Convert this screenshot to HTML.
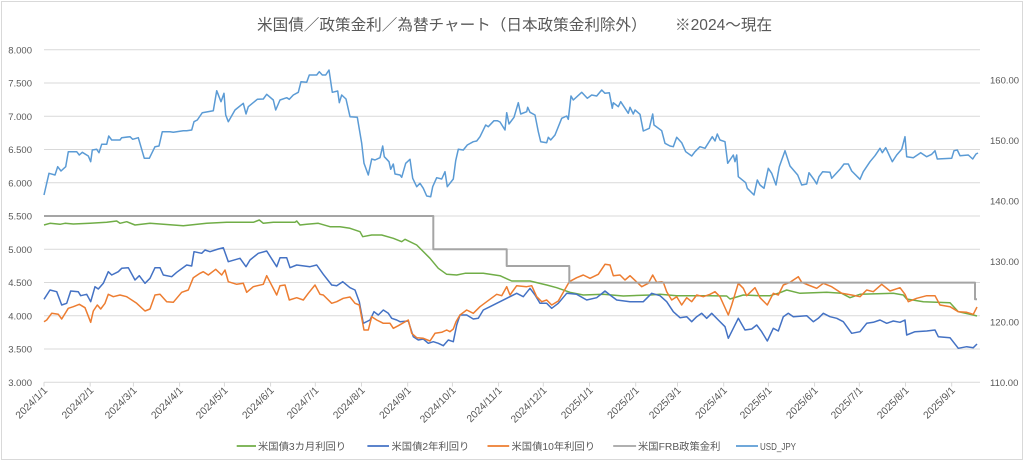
<!DOCTYPE html>
<html><head><meta charset="utf-8"><style>
html,body{margin:0;padding:0;background:#fff;}
svg{display:block;font-family:"Liberation Sans","Noto Sans CJK JP",sans-serif;}
</style></head><body>
<svg width="1024" height="461" viewBox="0 0 1024 461" xmlns="http://www.w3.org/2000/svg">
<rect x="0" y="0" width="1024" height="461" fill="#fff"/>
<rect x="1.5" y="1.5" width="1021" height="458" fill="none" stroke="#d9d9d9" stroke-width="1"/>
<text x="257" y="30" font-size="15.6" fill="#595959">米国債／政策金利／為替チャート（日本政策金利除外）</text>
<text x="675" y="30" font-size="15.6" fill="#595959">※2024～現在</text>
<g stroke="#d9d9d9" stroke-width="1">
<line x1="44" x2="980" y1="49.8" y2="49.8"/><line x1="44" x2="980" y1="83.05" y2="83.05"/><line x1="44" x2="980" y1="116.3" y2="116.3"/><line x1="44" x2="980" y1="149.55" y2="149.55"/><line x1="44" x2="980" y1="182.8" y2="182.8"/><line x1="44" x2="980" y1="216.05" y2="216.05"/><line x1="44" x2="980" y1="249.3" y2="249.3"/><line x1="44" x2="980" y1="282.55" y2="282.55"/><line x1="44" x2="980" y1="315.8" y2="315.8"/><line x1="44" x2="980" y1="349.05" y2="349.05"/><line x1="44" x2="980" y1="382.3" y2="382.3"/>
<line x1="44" x2="44" y1="382.3" y2="386.5"/><line x1="90.2" x2="90.2" y1="382.3" y2="386.5"/><line x1="133.4" x2="133.4" y1="382.3" y2="386.5"/><line x1="179.6" x2="179.6" y1="382.3" y2="386.5"/><line x1="224.4" x2="224.4" y1="382.3" y2="386.5"/><line x1="270.6" x2="270.6" y1="382.3" y2="386.5"/><line x1="315.3" x2="315.3" y1="382.3" y2="386.5"/><line x1="361.5" x2="361.5" y1="382.3" y2="386.5"/><line x1="407.7" x2="407.7" y1="382.3" y2="386.5"/><line x1="452.4" x2="452.4" y1="382.3" y2="386.5"/><line x1="498.6" x2="498.6" y1="382.3" y2="386.5"/><line x1="543.3" x2="543.3" y1="382.3" y2="386.5"/><line x1="589.5" x2="589.5" y1="382.3" y2="386.5"/><line x1="635.7" x2="635.7" y1="382.3" y2="386.5"/><line x1="677.5" x2="677.5" y1="382.3" y2="386.5"/><line x1="723.7" x2="723.7" y1="382.3" y2="386.5"/><line x1="768.4" x2="768.4" y1="382.3" y2="386.5"/><line x1="814.6" x2="814.6" y1="382.3" y2="386.5"/><line x1="859.3" x2="859.3" y1="382.3" y2="386.5"/><line x1="905.5" x2="905.5" y1="382.3" y2="386.5"/><line x1="951.7" x2="951.7" y1="382.3" y2="386.5"/>
</g>
<g font-size="9.5" fill="#595959" text-anchor="end">
<text x="32" y="53.3">8.000</text><text x="32" y="86.5">7.500</text><text x="32" y="119.8">7.000</text><text x="32" y="153">6.500</text><text x="32" y="186.3">6.000</text><text x="32" y="219.5">5.500</text><text x="32" y="252.8">5.000</text><text x="32" y="286">4.500</text><text x="32" y="319.3">4.000</text><text x="32" y="352.5">3.500</text><text x="32" y="385.8">3.000</text>
</g>
<g font-size="9.5" fill="#595959">
<text x="990" y="83.5">160.00</text><text x="990" y="144">150.00</text><text x="990" y="204.5">140.00</text><text x="990" y="264.9">130.00</text><text x="990" y="325.4">120.00</text><text x="990" y="385.8">110.00</text>
</g>
<g font-size="10.3" fill="#595959" text-anchor="end">
<text transform="translate(48,391) rotate(-45)">2024/1/1</text>
<text transform="translate(94.2,391) rotate(-45)">2024/2/1</text>
<text transform="translate(137.4,391) rotate(-45)">2024/3/1</text>
<text transform="translate(183.6,391) rotate(-45)">2024/4/1</text>
<text transform="translate(228.4,391) rotate(-45)">2024/5/1</text>
<text transform="translate(274.6,391) rotate(-45)">2024/6/1</text>
<text transform="translate(319.3,391) rotate(-45)">2024/7/1</text>
<text transform="translate(365.5,391) rotate(-45)">2024/8/1</text>
<text transform="translate(411.7,391) rotate(-45)">2024/9/1</text>
<text transform="translate(456.4,391) rotate(-45)">2024/10/1</text>
<text transform="translate(502.6,391) rotate(-45)">2024/11/1</text>
<text transform="translate(547.3,391) rotate(-45)">2024/12/1</text>
<text transform="translate(593.5,391) rotate(-45)">2025/1/1</text>
<text transform="translate(639.7,391) rotate(-45)">2025/2/1</text>
<text transform="translate(681.5,391) rotate(-45)">2025/3/1</text>
<text transform="translate(727.7,391) rotate(-45)">2025/4/1</text>
<text transform="translate(772.4,391) rotate(-45)">2025/5/1</text>
<text transform="translate(818.6,391) rotate(-45)">2025/6/1</text>
<text transform="translate(863.3,391) rotate(-45)">2025/7/1</text>
<text transform="translate(909.5,391) rotate(-45)">2025/8/1</text>
<text transform="translate(955.7,391) rotate(-45)">2025/9/1</text>
</g>
<g fill="none" stroke-width="1.5" stroke-linejoin="round">
<polyline stroke="#70ad47" points="44,225 50,223.3 60,224.3 65,223.3 73.3,224 90,223.3 106.7,222.3 116.7,221 120,223.3 126.7,221.7 135,225 150,223.3 183.3,225.7 206.7,223.3 226.7,222.3 253.3,222.3 259.3,220 263.3,223.3 273.3,222.3 295,222.3 296.7,221 300,225 306.7,224.3 318.3,223.3 330,226.7 340,226.7 350,228.3 360,231.7 362.7,236.7 371.7,235 381.7,235 393.3,238.3 401.7,241.7 405,239.3 416.7,245 421.7,250 430,258.3 438.3,268.3 446.7,274.3 456.7,275 465,273.3 483.3,273.3 500,275.7 511.7,281 530,281 546.7,285 556.7,287.7 570,292.3 583.3,295 603.3,294.3 623.3,296 650,295 660,294.3 676.7,295.7 710,295.7 726.7,296 730,299 743.3,295 760,295.7 770,295.7 780,292.7 786.7,290 800,293.3 826.7,292.3 841.7,293.3 850,297.7 860,294.3 893.3,293.3 903.3,295 906.7,299 923.3,301.7 950,302.7 958.3,311.7 973.3,315 977,316"/>
<polyline stroke="#4472c4" points="44,299.3 50,290 56.7,291.7 61.7,305 66.7,303.3 70.7,291 78.3,291.7 80.7,295.7 86.7,294.3 90.7,301.7 95,286.7 98.3,289 103.3,283.3 108.3,271.7 111.7,275 118.3,271.7 121.7,268.3 128.3,267.7 135,280 139.3,275.7 145,283.3 150,278.3 155,267.7 160,267.7 163.3,275 171.7,276.7 176.7,272.3 186.7,265 191.7,266 194,251.7 201.7,253.3 205,250 210,251.7 218.3,249 223.3,247.7 228.3,261.7 240,258.3 246,266.7 250,260 258.3,253.3 266.7,251 276.7,266.7 280,257.7 286.7,257.7 290,267.7 296.7,265 310,266.7 316.7,265 323.3,274.3 331.7,285 336.7,285.7 342.7,281.7 350,287.7 355,290 359.3,301.7 363.3,323.3 370,320 374,311.7 378.3,315 383.3,310 388.3,313.3 391.7,318.3 396.7,320 400,321.7 408.3,321 413.3,336.7 418.3,340 423.3,339 428.3,343.3 433.3,341.7 438.3,343.3 443.3,345.7 448.3,340 453.3,341.7 456.7,325 460,315 466.7,315 473.3,319 478.3,318.3 483.3,310 490,306.7 496.7,303.3 506.7,298.3 516.7,293.3 523.3,296.7 530,288.3 535,295 540,303.3 546.7,303.3 551.7,308.3 558.3,303.3 566.7,293.3 576.7,294.3 586.7,300 596.7,297.7 605,291 610,295 616.7,300 630,301.7 643.3,301.7 651.7,293.3 660,295.7 666.7,301.7 673.3,311.7 680,317.7 686.7,316.7 691.7,321.7 696.7,316.7 701.7,313.3 706.7,318.3 711.7,313.3 718.3,320 725,326.7 728.3,338.3 733.3,328.3 738.3,318.3 745,330 751.7,329 756.7,325 761.7,331.7 767.3,341 773.3,328.3 778.3,331 783.3,316.7 788.3,313.3 793.3,316.7 806.7,315.7 813.3,321.7 818.3,318.3 823.3,313.3 830,316.7 836.7,318.3 843.3,321.7 851.7,333.3 860,331.7 866.7,323.3 873.3,322.3 880,320 886.7,323.3 893.3,321 900,322.3 905,320 906.7,335 915,331.7 926.7,331 935,330 938.3,336.7 950,337.7 958.3,348.3 966.7,346.7 973.3,347.7 977,344"/>
<polyline stroke="#ed7d31" points="44,321.7 46.7,320 51.7,313.3 58.3,314.3 61.7,319 68.3,308.3 73.3,306.7 79.3,304.3 85,307.7 90.7,322.3 93.3,311 97.3,305 100.7,309 105,303.3 108.3,294.3 113.3,296.7 120,295 126.7,296.7 136.7,303.3 145,311 150,309 155,295 160,294.3 166.7,301.7 173.3,302.3 181.7,292.3 188.3,290 193.3,277.7 200,273.3 203.3,271.7 208.3,275 215.7,269.3 221.7,275 225,270 228.3,281.7 236.7,284.3 243.3,283.3 246.7,292.3 253.3,286.7 263.3,284.3 266.7,275.7 276.7,295 280,285.7 285,285 289.3,300 296.7,297.7 303.3,300 308.3,293.3 315,285 320,294.3 323.3,295 331.7,303.3 336.7,301.7 343.3,298.3 350,297 355,303.3 359.3,305 364,330 368.3,330 371.7,316.7 376.7,320 383.3,323.3 390,323.3 393.3,328.3 398.3,325.7 408.3,320 411.7,333.3 416.7,337.7 423.3,338.3 430,341 435,333.3 441.7,332.3 446.7,330 450,331.7 453.3,329 456,321.7 460,315 466.7,310 473.3,313.3 480,306.7 486.7,301.7 496.7,294.3 501.7,295.7 506.7,286.7 510,295 516.7,285.7 526.7,286.7 531.7,285.7 536.7,296.7 541.7,301.7 546.7,300 551.7,305 558.3,301 563.3,292.3 569.3,281.7 576.7,277.7 583.3,275 590,278.3 598.3,274.3 605,264.3 610,265 613.3,275.7 620,275 625,280 630,275.7 641.7,286.7 648.3,283.3 652.7,275 656.7,282.3 661.7,281.7 663.3,282.3 666.7,291.7 671.7,300 676.7,296.7 681.7,305 686.7,297.7 691.7,301.7 696.7,295 703.3,296.7 710,294.3 715,291.7 720,296.7 728.3,315 731.7,305 738.3,283.3 743.3,288.3 746.7,295.7 755,287.7 760,297.7 767.3,305 773.3,293.3 778.3,295 783.3,285 790,282.3 798.3,276.7 801.7,282.3 808.3,285 816.7,288.3 823.3,283.3 831.7,286.7 836.7,290 841.7,293.3 851.7,295 860,296.7 866.7,290 873.3,291.7 881.7,284.3 890,291 900,287.7 905,294.3 908.3,301.7 916.7,298.3 926.7,295.7 935,295.7 940,305 950,306.7 958.3,311.7 966.7,312.3 973.3,314.3 977,307"/>
<polyline stroke="#a5a5a5" stroke-width="2" points="44,216 433.3,216 433.3,249.3 506.7,249.3 506.7,266 569.3,266 569.3,282.6 975,282.6 975,299.3 977,299.3"/>
<polyline stroke="#5b9bd5" points="44,195 49,173.3 55,175 57.7,166.7 61,171 65.7,166.7 68.3,151.7 76.7,151.7 79.3,155 82.3,152.3 88.3,156 90.7,161.7 92.3,150 96.7,149.3 99,152.7 101.7,144.3 106.7,144.3 108.7,136 111.7,140 120,140 121.7,137.7 130,136.7 132.7,139.3 138.3,137.7 144.3,158.3 149.3,158.3 155,146.7 159,146 162.3,131.7 170,131.7 173.3,132.3 183.3,130.7 186.7,130.7 191.7,130 194,121.7 197.3,120 202.3,112.7 213.3,110.7 216.7,90.7 221,101.7 224,93.3 225.7,115 228.3,121.7 235,110 243.3,103.3 246,114 248.3,106.7 257.3,99.3 263.3,99 266.7,94.3 273.3,100 275.7,110 280,100 286.7,97.7 289.3,99.3 293.3,95 298.3,92.3 301,81.7 306.7,82.3 309.3,75 316.7,75 319.3,71.7 322.3,75 325.7,75 329,70 332.3,92.3 337.7,91 339.3,102.7 341.7,95 346,99 350,116.7 357.3,117.3 361.7,143.3 364,163.3 368.3,175 371.7,159 375,160 380,157.7 382.7,146 384.3,156.7 389,161.7 390.7,169.3 393.3,164 395,174 400,175 401.7,177.3 405.7,163.3 410,159.3 412.7,178.3 416.7,186.7 420,183.3 423.3,188.3 426.7,196 430.7,196.7 432.7,186.7 436.7,177.7 441.7,179 445,171.7 447.3,186.7 453.3,179 455.7,160.7 458.3,149.3 463.3,150 467.3,145 473.3,141.7 476.7,141 480,136.7 485.7,125 488.3,126.7 494,120.7 497.3,120.7 500,122 505,130 506.7,112.7 509,124 514,117.3 518.3,102.7 520.7,114 526.7,111.7 527.7,107.3 530,112.3 535,115 538.3,131.7 540.7,141.7 546.7,142.7 548.3,137.3 550.7,140 555,135 561.7,118.3 566.7,116 568.3,119.3 571,96 573.3,100 581.7,92.3 587.3,98.3 591.7,95 596.7,96 601.7,90 605,93.3 609.3,92.7 612.3,108.3 613.3,102.7 618.3,106.7 620.7,101.7 628.3,113.3 630,107.3 633.3,114 635,110 640,114.3 643.3,131 649.3,128.3 652.7,114 654,125 661.7,130.7 665,143.3 670,146 673.3,146.7 676.7,137.3 681.7,142.7 685.7,151.7 691.7,156 695,151.7 700,146.7 705,148.3 712.3,136.7 715,141 717.3,134 720,140 725,141.7 727.7,163.3 733.3,155 735,161.7 736.7,155 738.3,176.7 745.7,182.7 747.3,188.3 754,195 757.3,180 760,185 764,188.3 768.3,168.3 771.7,173.3 776,185 779.3,166.7 785,150.7 790,166 797.7,175 801.7,185 806.7,184 809,172.7 814.3,180 816.7,184 819,176.7 822.7,171.7 830,172.3 831.7,178.3 840,169.3 844,164 848.3,164 851.7,171 860,179.3 863.3,171.7 870,161.7 875,155.7 880,148.3 882.3,152.7 885.7,147.7 892.3,161.7 896.7,155 901.7,149.3 905,136.7 906.7,156.7 913.3,157.7 920.7,152.7 926.7,156.7 931.7,154.3 935,150.7 937.3,159 951.7,158.3 954,150.7 957.3,150 960,155.7 968.3,155 972.7,159 976,154 978,153"/>
</g>
<g stroke-width="1.8">
<line x1="236.7" x2="256" y1="446" y2="446" stroke="#70ad47"/>
<line x1="367.4" x2="389" y1="446" y2="446" stroke="#4472c4"/>
<line x1="487.5" x2="509.2" y1="446" y2="446" stroke="#ed7d31"/>
<line x1="613.2" x2="636.1" y1="446" y2="446" stroke="#a5a5a5"/>
<line x1="736" x2="758" y1="446" y2="446" stroke="#5b9bd5"/>
</g>
<g font-size="10.3" fill="#595959">
<text x="258" y="450">米国債3カ月利回り</text>
<text x="391.5" y="450">米国債2年利回り</text>
<text x="511.5" y="450">米国債10年利回り</text>
<text x="638" y="450">米国FRB政策金利</text>
<text x="760" y="450" textLength="36" lengthAdjust="spacingAndGlyphs">USD_JPY</text>
</g>
</svg>
</body></html>
